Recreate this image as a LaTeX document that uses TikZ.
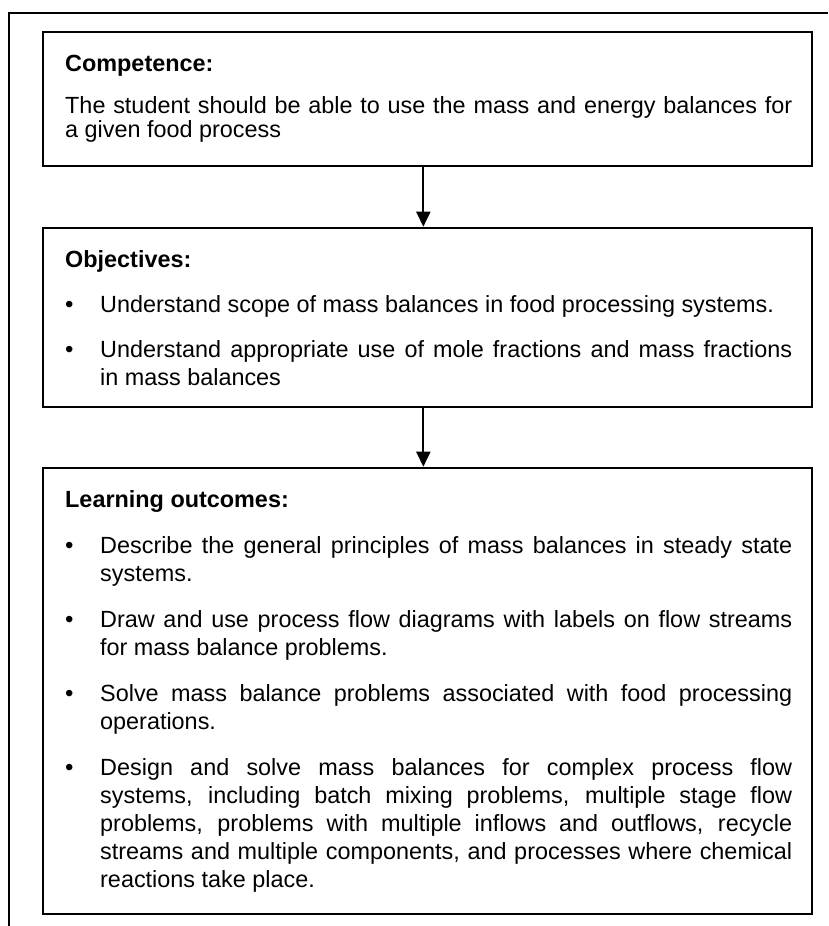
\documentclass[tikz,border=0pt]{standalone}
\usepackage{fontspec}
\setmainfont{Liberation Sans}
\usetikzlibrary{arrows.meta}
\begin{document}
\begin{tikzpicture}[x=1pt,y=-1pt,
  frame/.style={line width=2pt},
  box/.style={draw,line width=2pt,inner sep=0pt,minimum width=769.3pt},
  arr/.style={line width=2pt,-{Triangle[width=14pt,length=15pt]}},
  title/.style={anchor=base west,inner sep=0pt,font=\fontsize{23.4pt}{24.5pt}\selectfont\bfseries},
  para/.style={anchor=base west,inner sep=0pt,text width=727pt,align=justify,font=\fontsize{23.4pt}{24.5pt}\selectfont},
  bpara/.style={anchor=base west,inner sep=0pt,text width=692pt,align=justify,font=\fontsize{23.4pt}{28pt}\selectfont},
  bul/.style={anchor=base west,inner sep=0pt,font=\fontsize{24pt}{28pt}\selectfont}]
\useasboundingbox (0,0) rectangle (828,926);
% outer frame (top and left edges)
\coordinate (fl) at (9.3,926);
\coordinate (fc) at (9.3,12.7);
\coordinate (fr) at (828,12.7);
\draw[frame] (fl) -- (fc) -- (fr);
% boxes
\node[box,minimum height=134pt] (b1) at (427.35,98.7) {};
\node[box,minimum height=179pt] (b2) at (427.35,317.2) {};
\node[box,minimum height=446.3pt] (b3) at (427.35,690.85) {};
% arrows
\draw[arr] ([xshift=-4pt]b1.south) -- ([xshift=-4pt]b2.north);
\draw[arr] ([xshift=-4pt]b2.south) -- ([xshift=-4pt]b3.north);
% box 1
\node[title] (t1) at (65,71) {Competence:};
\node[para] (p1) at (65,113) {The student should be able to use the mass and energy balances for\linebreak a given food process};
% box 2
\node[title] (t2) at (65,267) {Objectives:};
\node[bul] (o1b) at (65,312) {•};
\node[bpara] (o1) at (100,312) {Understand scope of mass balances in food processing systems.};
\node[bul] (o2b) at (65,357) {•};
\node[bpara] (o2) at (100,357) {Understand appropriate use of mole fractions and mass fractions\linebreak in mass balances};
% box 3
\node[title] (t3) at (65,507) {Learning outcomes:};
\node[bul] (l1b) at (65,553) {•};
\node[bpara] (l1) at (100,553) {Describe the general principles of mass balances in steady state\linebreak systems.};
\node[bul] (l2b) at (65,627) {•};
\node[bpara] (l2) at (100,627) {Draw and use process flow diagrams with labels on flow streams\linebreak for mass balance problems.};
\node[bul] (l3b) at (65,701) {•};
\node[bpara] (l3) at (100,701) {Solve mass balance problems associated with food processing\linebreak operations.};
\node[bul] (l4b) at (65,775) {•};
\node[bpara] (l4) at (100,775) {Design and solve mass balances for complex process flow\linebreak systems, including batch mixing problems, multiple stage flow\linebreak problems, problems with multiple inflows and outflows, recycle\linebreak streams and multiple components, and processes where chemical\linebreak reactions take place.};
\end{tikzpicture}
\end{document}
